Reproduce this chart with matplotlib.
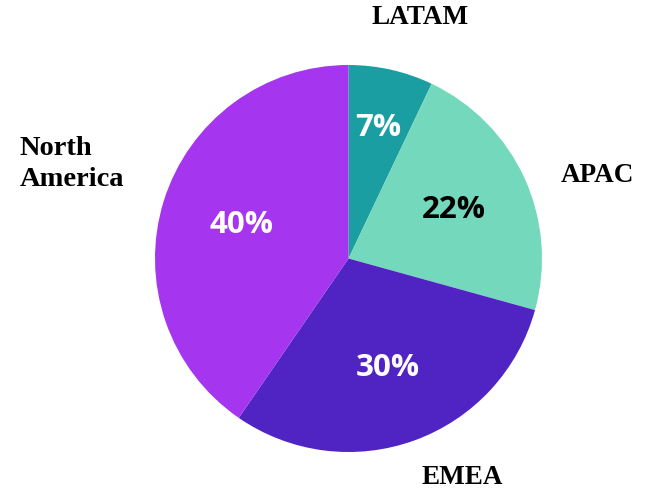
import numpy as np
import matplotlib.pyplot as plt

regions = ["LATAM", "APAC", "EMEA", "North America"]
shares = [7, 22, 30, 40]
colors = ["#1b9ea1", "#74d9bc", "#5023c3", "#a535ef"]
pct_colors = ["white", "black", "white", "white"]
pct_dist = [0.69, 0.6, 0.6, 0.58]

W, H = 652, 492
fig = plt.figure(figsize=(W / 100, H / 100), dpi=100)

# pie centre / radius in pixels
cx, cy, r = 348.5, 258.5, 193.5
ax = fig.add_axes([(cx - r) / W, (H - cy - r) / H, 2 * r / W, 2 * r / H])

wedges, _ = ax.pie(shares, colors=colors, startangle=90, counterclock=False,
                   radius=1.0, wedgeprops=dict(linewidth=0))
ax.set_xlim(-1, 1)
ax.set_ylim(-1, 1)
ax.set_aspect("equal")
ax.axis("off")

for w, v, c, d in zip(wedges, shares, pct_colors, pct_dist):
    mid = np.deg2rad((w.theta1 + w.theta2) / 2)
    ax.text(d * np.cos(mid), d * np.sin(mid), f"{v}%", ha="center", va="center",
            color=c, fontsize=22.5, fontweight="bold", family="Open Sans")

# region names around the pie (pixel positions)
label_pos = {
    "LATAM": (420, 18, "center", 19.5),
    "APAC": (597, 176, "center", 19.5),
    "EMEA": (462, 478, "center", 19.5),
    "North\nAmerica": (20, 164, "left", 20.5),
}
for name, (x, y, ha, fs) in label_pos.items():
    fig.text(x / W, 1 - y / H, name, ha=ha, va="center", fontsize=fs,
             fontweight="bold", family="Liberation Serif", linespacing=1.3)

fig.savefig("out.png", dpi=100)
